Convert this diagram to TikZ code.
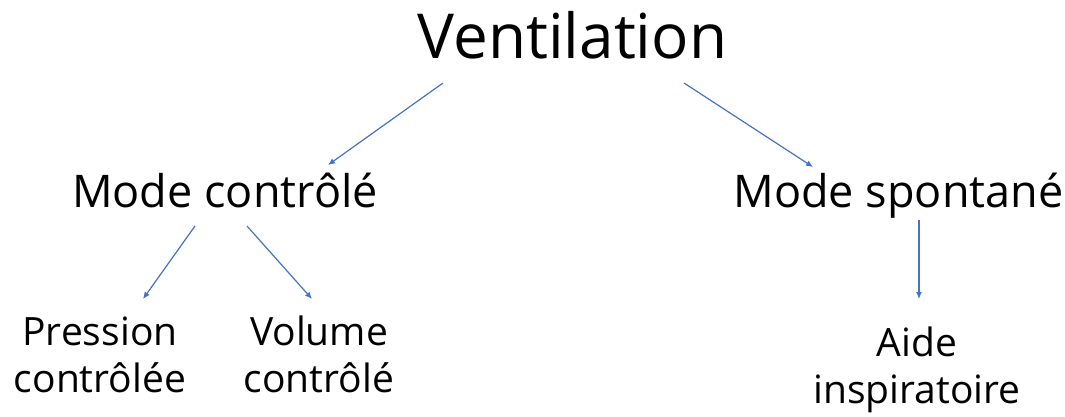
\documentclass[tikz,border=0pt]{standalone}
\usepackage{fontspec}
\setmainfont{Open Sans}
\usetikzlibrary{arrows.meta}
\definecolor{arrowblue}{RGB}{68,114,196}
\begin{document}
\begin{tikzpicture}[x=1pt,y=-1pt,
  lbl/.style={inner sep=0pt, anchor=base, align=center, text=black},
  big/.style={lbl, font=\fontsize{62}{74}\selectfont},
  mid/.style={lbl, font=\fontsize{45}{54}\selectfont},
  small/.style={lbl, font=\fontsize{39}{47}\selectfont},
  arr/.style={draw=arrowblue, line width=1.2pt, -{Latex[length=7pt,width=6pt]}}]
\useasboundingbox (0,0) rectangle (1065,416);
\node[big] (vent) at (572.5,58) {Ventilation};
\node[mid] (mc) at (225,207) {Mode contrôlé};
\node[mid] (ms) at (898.5,207) {Mode spontané};
\node[small] (pc) at (100,392) {Pression\\contrôlée};
\node[small] (vc) at (319,392) {Volume\\contrôlé};
\node[small] (ai) at (917,403) {Aide\\inspiratoire};
\draw[arr] ([xshift=-129.5pt,yshift=-25pt]vent.base) -- ([xshift=103pt,yshift=42pt]mc.base);
\draw[arr] ([xshift=111.5pt,yshift=-25pt]vent.base) -- ([xshift=-85.5pt,yshift=40pt]ms.base);
\draw[arr] ([xshift=-30pt,yshift=-19pt]mc.base) -- ([xshift=43pt,yshift=93pt]pc.base);
\draw[arr] ([xshift=22pt,yshift=-19pt]mc.base) -- ([xshift=-7pt,yshift=93pt]vc.base);
\draw[arr] ([xshift=20.5pt,yshift=-13pt]ms.base) -- ([xshift=2pt,yshift=104pt]ai.base);
\end{tikzpicture}
\end{document}
